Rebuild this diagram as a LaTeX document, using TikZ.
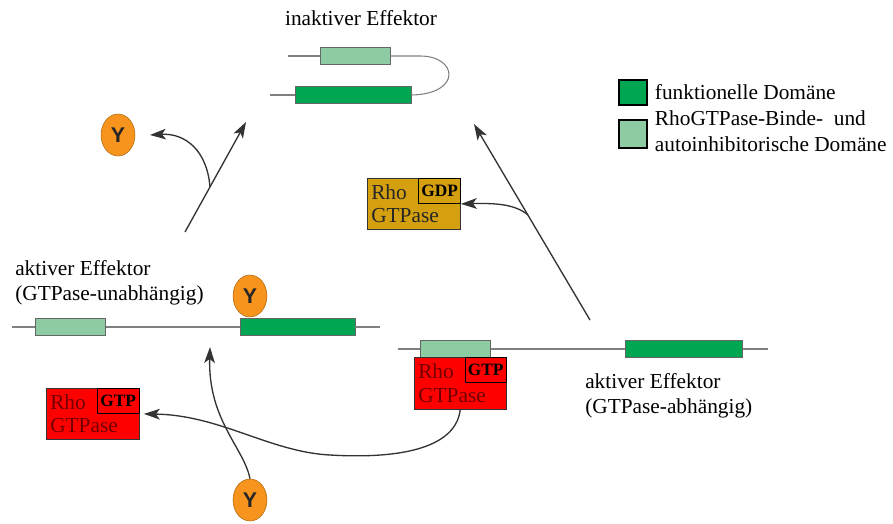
\documentclass[tikz,border=0pt]{standalone}
\usepackage{fontspec}
\setmainfont{Liberation Serif}
\newfontfamily\yfont{Liberation Sans}
\usetikzlibrary{arrows.meta,positioning,shapes.geometric}
\definecolor{funcgreen}{HTML}{00A651}
\definecolor{bindgreen}{HTML}{8DCCA2}
\definecolor{yorange}{HTML}{F7941D}
\definecolor{gdpgold}{HTML}{D4A010}
\definecolor{gtpred}{HTML}{FF0000}

\begin{document}
\begin{tikzpicture}[x=0.75pt,y=-0.75pt,font=\fontsize{16}{19}\selectfont,
  effline/.style={draw=black!50,line width=0.8pt},
  dom/.style={draw=black!60,rectangle,inner sep=0pt,minimum height=13pt,anchor=west},
  funcdom/.style={dom,fill=funcgreen},
  binddom/.style={dom,fill=bindgreen},
  legbox/.style={draw=black,line width=1.5pt,rectangle,inner sep=0pt,minimum width=21pt},
  ynode/.style={ellipse,draw=yorange!70!black,fill=yorange,minimum width=25.5pt,minimum height=31.5pt,inner sep=0pt,
    font=\yfont\bfseries\fontsize{16}{16}\selectfont,text=black!85},
  rho/.style={draw=black!80,rectangle,inner sep=0pt,minimum width=70pt,minimum height=38.5pt,anchor=north west},
  nuc/.style={draw=black,rectangle,inner sep=0pt,minimum width=31.5pt,minimum height=19pt,anchor=north east,
    font=\bfseries\fontsize{13}{13}\selectfont},
  rhotext/.style={align=left,inner sep=0pt,anchor=west,font=\fontsize{16}{17.5}\selectfont},
  arr/.style={draw=black!80,line width=1pt,-{Stealth[length=12pt,width=8pt,inset=3pt]}}]

\useasboundingbox (0,0) rectangle (893,524);

\node (inTitle) at (361,18) {inaktiver Effektor};
\coordinate (inLtA) at (288,56);
\coordinate (inDkA) at (270,95);
\node[binddom,minimum width=52.5pt] (inLt) at (320,56) {};
\node[funcdom,minimum width=87pt] (inDk) at (295,95) {};
\draw[effline] (inLtA) -- (inLt.west);
\draw[effline] (inDkA) -- (inDk.west);
\draw[effline] (inLt.east) -- (420,56) .. controls (458,56) and (462,94) .. (inDk.east);

\node[legbox,fill=funcgreen,minimum height=19pt] (legF) at (633,92.5) {};
\node[right=5pt of legF,inner sep=0pt] (legFt) {funktionelle Domäne};
\node[legbox,fill=bindgreen,minimum height=21pt] (legB) at (633,134) {};
\node[right=5pt of legB,inner sep=0pt,align=left,yshift=2pt] (legBt) {RhoGTPase-Binde-\ \ und\\autoinhibitorische Domäne};

\node[ynode] (y1) at (118,135) {Y};
\node[rho,fill=gdpgold] (rhoD) at (367,178) {};
\node[nuc] (gdp) at (rhoD.north east) {GDP};
\node[rhotext,text=black!85] (rhoDt) at ([xshift=3pt]rhoD.west) {Rho\\GTPase};

\node[align=left,anchor=west,inner sep=0pt] (uText) at (15,283) {aktiver Effektor\\(GTPase-unabhängig)};
\coordinate (uA) at (12,327);
\coordinate (uB) at (380,327);
\node[binddom,minimum width=52.5pt] (uLt) at (35,327) {};
\node[funcdom,minimum width=86pt] (uDk) at (240,327) {};
\draw[effline] (uA) -- (uLt.west) (uLt.east) -- (uDk.west) (uDk.east) -- (uB);
\node[ynode] (y2) at (250,296) {Y};

\coordinate (aA) at (398,349);
\coordinate (aB) at (768,349);
\node[binddom,minimum width=52.5pt] (aLt) at (420,349) {};
\node[funcdom,minimum width=88pt] (aDk) at (625,349) {};
\draw[effline] (aA) -- (aLt.west) (aLt.east) -- (aDk.west) (aDk.east) -- (aB);
\node[rho,fill=gtpred,minimum width=69pt,minimum height=39pt] (rhoR) at (414,357) {};
\node[nuc,minimum width=31pt] (gtpR) at (rhoR.north east) {GTP};
\node[rhotext,text=red!45!black] (rhoRt) at ([xshift=3pt]rhoR.west) {Rho\\GTPase};
\node[align=left,anchor=west,inner sep=0pt] (aText) at (585,396) {aktiver Effektor\\(GTPase-abhängig)};

\node[rho,fill=gtpred] (rhoL) at (46,388) {};
\node[nuc,minimum width=32pt] (gtpL) at (rhoL.north east) {GTP};
\node[rhotext,text=red!45!black] (rhoLt) at ([xshift=3pt]rhoL.west) {Rho\\GTPase};
\node[ynode] (y3) at (250,500) {Y};

\coordinate (upA) at (185,232);
\coordinate (upB) at (246,122);
\coordinate (brL) at (210,187);
\draw[arr] (upA) -- (upB);
\draw[arr] (brL) .. controls (207,150) and (185,133) .. ([xshift=11pt]y1.east);

\coordinate (dnA) at (590,320);
\coordinate (dnB) at (474,124);
\coordinate (brR) at (528,215);
\draw[arr] (dnA) -- (dnB);
\draw[arr] (brR) .. controls (515,204) and (495,203) .. (rhoD.east);

\coordinate (upC) at (210,347);
\draw[arr] (y3.north) .. controls (244,448) and (208,420) .. (upC);
\draw[arr] (rhoR.south) .. controls (455,455) and (380,458) .. (330,455) .. controls (270,452) and (220,415) .. ([xshift=3pt]rhoL.east);
\end{tikzpicture}
\end{document}
